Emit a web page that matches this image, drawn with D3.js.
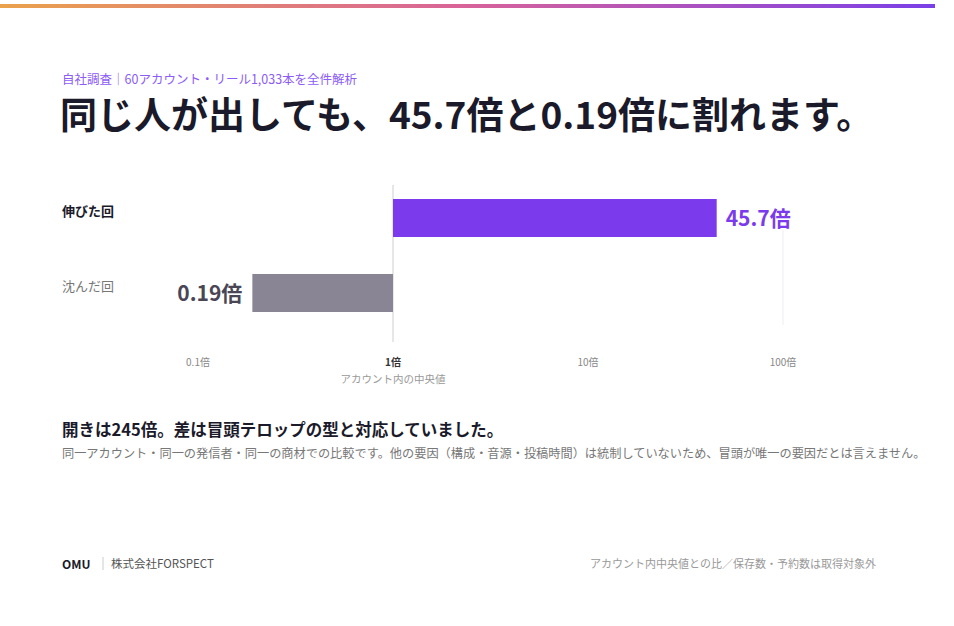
<!DOCTYPE html>
<html><head><meta charset="utf-8">
<script src="https://cdn.jsdelivr.net/npm/d3@7"></script>
<style>
body{margin:0;background:#fff;font-family:"Noto Sans CJK JP","Noto Sans",sans-serif;}
</style></head>
<body><div class="maintable"></div>
<script>
// データ
var categories = ["伸びた回","沈んだ回"];
var values = [45.7, 0.19];
var valueLabels = ["45.7倍","0.19倍"];
var tickValues = [0.1, 1, 10, 100];
var tickLabels = ["0.1倍","1倍","10倍","100倍"];

var svg = d3.select(".maintable").append("svg")
  .attr("width",954).attr("height",626);

// 上部グラデーション
var grad = svg.append("defs").append("linearGradient").attr("id","topg");
grad.append("stop").attr("offset","0%").attr("stop-color","#eaa24c");
grad.append("stop").attr("offset","50%").attr("stop-color","#d8639a");
grad.append("stop").attr("offset","100%").attr("stop-color","#7a3fe8");
svg.append("rect").attr("x",0).attr("y",4).attr("width",935).attr("height",4).attr("fill","url(#topg)");

svg.append("text").attr("x",62).attr("y",84).attr("font-size","12.5px").attr("fill","#8b5cf6")
  .text("自社調査｜60アカウント・リール1,033本を全件解析");
svg.append("text").attr("x",60).attr("y",129).attr("font-size","37px").attr("font-weight","bold").attr("fill","#1a1a2a")
  .text("同じ人が出しても、45.7倍と0.19倍に割れます。");

var x = d3.scaleLog().domain([0.1,100]).range([198,783]);
var y = d3.scaleBand().domain(categories).range([199,312]).paddingInner(0.493).paddingOuter(0);

// グリッド
svg.append("line").attr("x1",x(1)).attr("x2",x(1)).attr("y1",185).attr("y2",342).attr("stroke","#cfcfd6");
svg.append("line").attr("x1",x(100)).attr("x2",x(100)).attr("y1",230).attr("y2",325).attr("stroke","#eeeef2");

// バー
svg.selectAll(".bar").data(values).enter().append("rect")
  .attr("x",function(d){return Math.min(x(d),x(1));})
  .attr("y",function(d,i){return y(categories[i]);})
  .attr("width",function(d){return Math.abs(x(d)-x(1));})
  .attr("height",y.bandwidth())
  .attr("fill",function(d,i){return i==0?"#7c3aed":"#8a8594";});

svg.selectAll(".vl").data(values).enter().append("text")
  .attr("x",function(d,i){return i==0?x(d)+9:x(d)-10;})
  .attr("y",function(d,i){return y(categories[i])+y.bandwidth()/2+8;})
  .attr("text-anchor",function(d,i){return i==0?"start":"end";})
  .attr("font-size","21px").attr("font-weight","bold")
  .attr("fill",function(d,i){return i==0?"#7c3aed":"#4a4656";})
  .text(function(d,i){return valueLabels[i];});

svg.selectAll(".cat").data(categories).enter().append("text")
  .attr("x",62).attr("y",function(d){return y(d)+y.bandwidth()/2-2;})
  .attr("font-size","13px")
  .attr("font-weight",function(d,i){return i==0?"bold":"normal";})
  .attr("fill",function(d,i){return i==0?"#1a1a2a":"#777";})
  .text(function(d){return d;});

// 軸ラベル
svg.selectAll(".tick").data(tickValues).enter().append("text")
  .attr("x",function(d){return x(d);}).attr("y",366).attr("text-anchor","middle")
  .attr("font-size","10px")
  .attr("font-weight",function(d){return d==1?"bold":"normal";})
  .attr("fill",function(d){return d==1?"#333":"#888";})
  .text(function(d,i){return tickLabels[i];});
svg.append("text").attr("x",x(1)).attr("y",383).attr("text-anchor","middle").attr("font-size","10.5px").attr("fill","#999")
  .text("アカウント内の中央値");

svg.append("text").attr("x",62).attr("y",436).attr("font-size","16.5px").attr("font-weight","bold").attr("fill","#1a1a2a")
  .text("開きは245倍。差は冒頭テロップの型と対応していました。");
svg.append("text").attr("x",62).attr("y",458).attr("font-size","12.2px").attr("fill","#777")
  .text("同一アカウント・同一の発信者・同一の商材での比較です。他の要因（構成・音源・投稿時間）は統制していないため、冒頭が唯一の要因だとは言えません。");

svg.append("text").attr("x",62).attr("y",569).attr("font-size","12px").attr("font-weight","bold").attr("fill","#1a1a2a").text("OMU");
svg.append("line").attr("x1",103).attr("x2",103).attr("y1",557).attr("y2",570).attr("stroke","#ccc");
svg.append("text").attr("x",111).attr("y",568).attr("font-size","11.5px").attr("fill","#555").text("株式会社FORSPECT");
svg.append("text").attr("x",876).attr("y",568).attr("text-anchor","end").attr("font-size","11px").attr("fill","#999")
  .text("アカウント内中央値との比／保存数・予約数は取得対象外");
</script></body></html>
